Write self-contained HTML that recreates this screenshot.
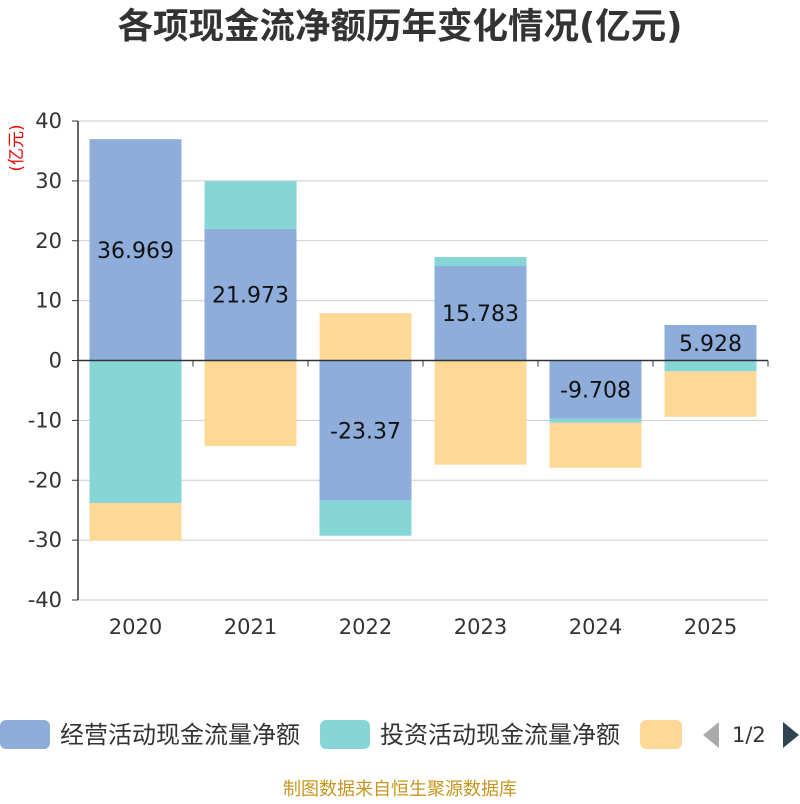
<!DOCTYPE html>
<html><head><meta charset="utf-8"><style>
body{margin:0;background:#fff;width:800px;height:800px;overflow:hidden;font-family:"DejaVu Sans","Noto Sans CJK SC",sans-serif;}
</style></head><body>
<svg id="c" width="800" height="800" xmlns="http://www.w3.org/2000/svg">
<text x="400" y="38" text-anchor="middle" font-size="35.5" font-weight="bold" fill="#333" font-family="DejaVu Sans,Noto Sans CJK SC,sans-serif">各项现金流净额历年变化情况(亿元)</text>
<text transform="translate(22,148) rotate(-90)" text-anchor="middle" font-size="17" fill="#e00" font-family="DejaVu Sans,Noto Sans CJK SC,sans-serif">(亿元)</text>
<g id="grid"></g><g id="bars"></g><g id="axes"></g>
<g font-family="DejaVu Sans,Noto Sans CJK SC,sans-serif" font-size="24" fill="#333">
<rect x="0" y="720" width="50" height="29" rx="6" fill="#8eaddb"/>
<text x="60" y="743">经营活动现金流量净额</text>
<rect x="320" y="720" width="50" height="29" rx="6" fill="#86d6d8"/>
<text x="380" y="743">投资活动现金流量净额</text>
<rect x="640" y="720" width="42" height="29" rx="6" fill="#fed897"/>
<path d="M719 722 L703 735 L719 748 Z" fill="#aaa"/>
<text x="732" y="742" font-size="21">1/2</text>
<path d="M783 722 L799 735 L783 748 Z" fill="#2f4554"/>
</g>
<text x="400" y="795" text-anchor="middle" font-size="18" fill="#c8961e" font-family="DejaVu Sans,Noto Sans CJK SC,sans-serif">制图数据来自恒生聚源数据库</text>
</svg>
<script>
const years=["2020","2021","2022","2023","2024","2025"];
const operating=[36.969,21.973,-23.37,15.783,-9.708,5.928];
const investing=[-23.8,8.0,-5.9,1.5,-0.7,-1.8];
const financing=[-6.3,-14.3,7.9,-17.4,-7.5,-7.6];
const ticks=[40,30,20,10,0,-10,-20,-30,-40];
const opLabels=["36.969","21.973","-23.37","15.783","-9.708","5.928"];
const NS="http://www.w3.org/2000/svg";
const x0=78,x1=768,yTop=121,yBot=600,vMax=40,vMin=-40;
const y=v=>yTop+(vMax-v)/(vMax-vMin)*(yBot-yTop);
const band=(x1-x0)/years.length;
const bw=92;
const FF='DejaVu Sans,sans-serif';
function mk(tag,attrs,parent){const e=document.createElementNS(NS,tag);for(const k in attrs)e.setAttribute(k,attrs[k]);parent.appendChild(e);return e;}
const grid=document.getElementById('grid'),bars=document.getElementById('bars'),axes=document.getElementById('axes');
ticks.forEach(t=>{
 const l=mk('line',{x1:x0,x2:x1,y1:y(t),y2:y(t),stroke:'#ccc','stroke-width':1},grid);
 
 
 const tx=mk('text',{x:62,y:y(t)+7,'text-anchor':'end','font-size':21,fill:'#333','font-family':FF},axes);
 tx.textContent=t;
 
 
 const tk=mk('line',{x1:x0-6,x2:x0,y1:y(t),y2:y(t),stroke:'#333'},axes);
 
 
});
const series=[[operating,'#8eaddb','operating'],[investing,'#86d6d8','investing'],[financing,'#fed897','financing']];
years.forEach((yr,i)=>{
 let pos=0,neg=0;
 const cx=x0+band*(i+0.5);
 series.forEach(([arr,col,nm])=>{
  const v=arr[i];let a,b;
  if(v>=0){a=pos;b=pos+v;pos=b;}else{a=neg;b=neg+v;neg=b;}
  const top=y(Math.max(a,b)),bot=y(Math.min(a,b));
  const r=mk('rect',{x:cx-bw/2,y:top,width:bw,height:bot-top,fill:col},bars);
  
  
 });
 const v=operating[i];
 const lt=mk('text',{x:cx,y:y(v/2)+8,'text-anchor':'middle','font-size':22,fill:'#111','font-family':FF},bars);
 lt.textContent=opLabels[i];
 
 
 const xl=mk('text',{x:cx,y:634,'text-anchor':'middle','font-size':21,fill:'#333','font-family':FF},axes);
 xl.textContent=yr;
 
 
});
for(let i=0;i<=years.length;i++){
 const tk=mk('line',{x1:x0+band*i,x2:x0+band*i,y1:y(0),y2:y(0)+6,stroke:'#333'},axes);
 
 
}
const xa=mk('line',{x1:x0,x2:x1,y1:y(0),y2:y(0),stroke:'#333','stroke-width':1.5},axes);


const ya=mk('line',{x1:x0,x2:x0,y1:yTop,y2:yBot,stroke:'#333','stroke-width':1.5},axes);


</script>
</body></html>
